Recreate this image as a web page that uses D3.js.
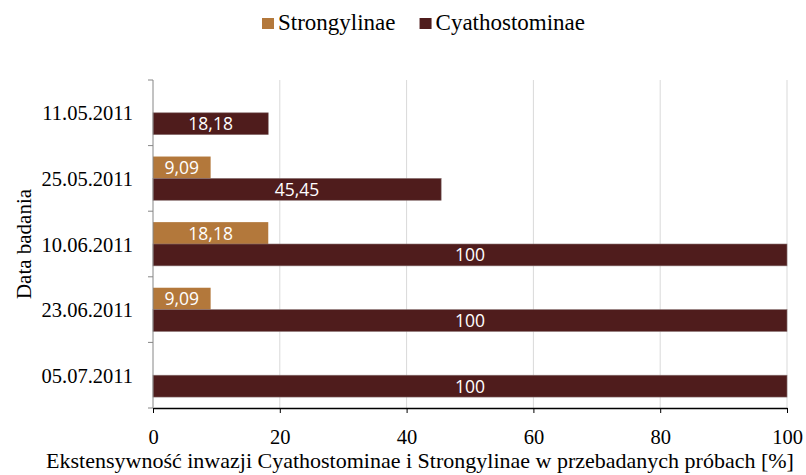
<!DOCTYPE html>
<html><head><meta charset="utf-8">
<script src="https://cdn.jsdelivr.net/npm/d3@7"></script>
<style>body{margin:0;background:#fff}svg{display:block}</style>
</head><body><svg id="c" width="806" height="475"></svg>
<script>
const categories = ["11.05.2011", "25.05.2011", "10.06.2011", "23.06.2011", "05.07.2011"];
const seriesNames = ["Strongylinae", "Cyathostominae"];
const strongylinae = [null, 9.09, 18.18, 9.09, null];
const cyathostominae = [18.18, 45.45, 100, 100, 100];
const xTicks = [0, 20, 40, 60, 80, 100];
const xTitle = "Ekstensywność inwazji Cyathostominae i Strongylinae w przebadanych próbach [%]";
const yTitle = "Data badania";

const colors = {Strongylinae: "#b3783b", Cyathostominae: "#4f1c1c"};
const W = 806, H = 475;
const m = {top: 80, right: 19, bottom: 67, left: 153};
const svg = d3.select("#c");
const serif = "'Liberation Serif','Times New Roman',serif";
const sans = "'Open Sans','Noto Sans',sans-serif";

const x = d3.scaleLinear().domain([0, 100]).range([m.left, W - m.right]);
const y = d3.scaleBand().domain(categories).range([m.top, H - m.bottom]).paddingInner(1/3).paddingOuter(1/6);
const yIn = d3.scaleBand().domain(seriesNames).range([0, y.bandwidth()]);

// grid
svg.append("g").selectAll("line").data(xTicks.filter(d => d > 0)).join("line")
  .attr("x1", d => x(d)).attr("x2", d => x(d))
  .attr("y1", m.top).attr("y2", H - m.bottom)
  .attr("stroke", "#d9d9d9").attr("stroke-width", 1);

// bars
const rows = [];
categories.forEach((c, i) => {
  rows.push({cat: c, s: "Strongylinae", v: strongylinae[i]});
  rows.push({cat: c, s: "Cyathostominae", v: cyathostominae[i]});
});
const data = rows.filter(d => d.v != null);
svg.append("g").selectAll("rect").data(data).join("rect")
  .attr("x", x(0))
  .attr("y", d => y(d.cat) + yIn(d.s))
  .attr("width", d => x(d.v) - x(0))
  .attr("height", yIn.bandwidth())
  .attr("fill", d => colors[d.s])
  .attr("stroke", d => d.s === "Cyathostominae" ? "#8a7373" : "none")
  .attr("stroke-width", 0.6);

svg.append("g").selectAll("text").data(data).join("text")
  .attr("x", d => (x(0) + x(d.v)) / 2)
  .attr("y", d => y(d.cat) + yIn(d.s) + yIn.bandwidth() / 2 + 6.5)
  .attr("text-anchor", "middle")
  .attr("fill", "#fff")
  .style("font-family", sans).style("font-size", "17.5px")
  .text(d => String(d.v).replace(".", ","));

// x axis
const xa = svg.append("g").attr("transform", `translate(0,${H - m.bottom})`)
  .call(d3.axisBottom(x).tickValues(xTicks).tickSize(5).tickSizeOuter(0).tickFormat(d3.format("d")));
xa.select(".domain").attr("stroke", "#000").attr("stroke-width", 1.3);
xa.selectAll(".tick line").attr("stroke", "#000");
xa.selectAll(".tick text").attr("y", 0).attr("dy", 36)
  .style("font-family", serif).style("font-size", "20.5px").attr("fill", "#000");

// y axis
const edges = d3.range(categories.length + 1).map(i => m.top + i * y.step());
svg.append("line").attr("x1", m.left).attr("x2", m.left).attr("y1", m.top).attr("y2", H - m.bottom)
  .attr("stroke", "#868686").attr("stroke-width", 1);
svg.append("g").selectAll("line").data(edges).join("line")
  .attr("x1", m.left - 5).attr("x2", m.left).attr("y1", d => d).attr("y2", d => d)
  .attr("stroke", "#868686");
svg.append("g").selectAll("text").data(categories).join("text")
  .attr("x", m.left - 20)
  .attr("y", d => y(d) + y.bandwidth() / 2 + 7.5)
  .attr("text-anchor", "end")
  .style("font-family", serif).style("font-size", "20.5px").attr("fill", "#000")
  .text(d => d);

// titles
svg.append("text").attr("x", 420).attr("y", 468)
  .attr("text-anchor", "middle")
  .style("font-family", serif).style("font-size", "22px").text(xTitle);
svg.append("text").attr("transform", `translate(31,${(m.top + H - m.bottom) / 2}) rotate(-90)`)
  .attr("text-anchor", "middle")
  .style("font-family", serif).style("font-size", "21px").text(yTitle);

// legend
let lx = 262;
seriesNames.forEach(s => {
  svg.append("rect").attr("x", lx).attr("y", 18).attr("width", 12).attr("height", 11).attr("fill", colors[s]);
  const t = svg.append("text").attr("x", lx + 16).attr("y", 30)
    .style("font-family", serif).style("font-size", "23px").text(s);
  lx += 16 + t.node().getComputedTextLength() + 24;
});
</script></body></html>
